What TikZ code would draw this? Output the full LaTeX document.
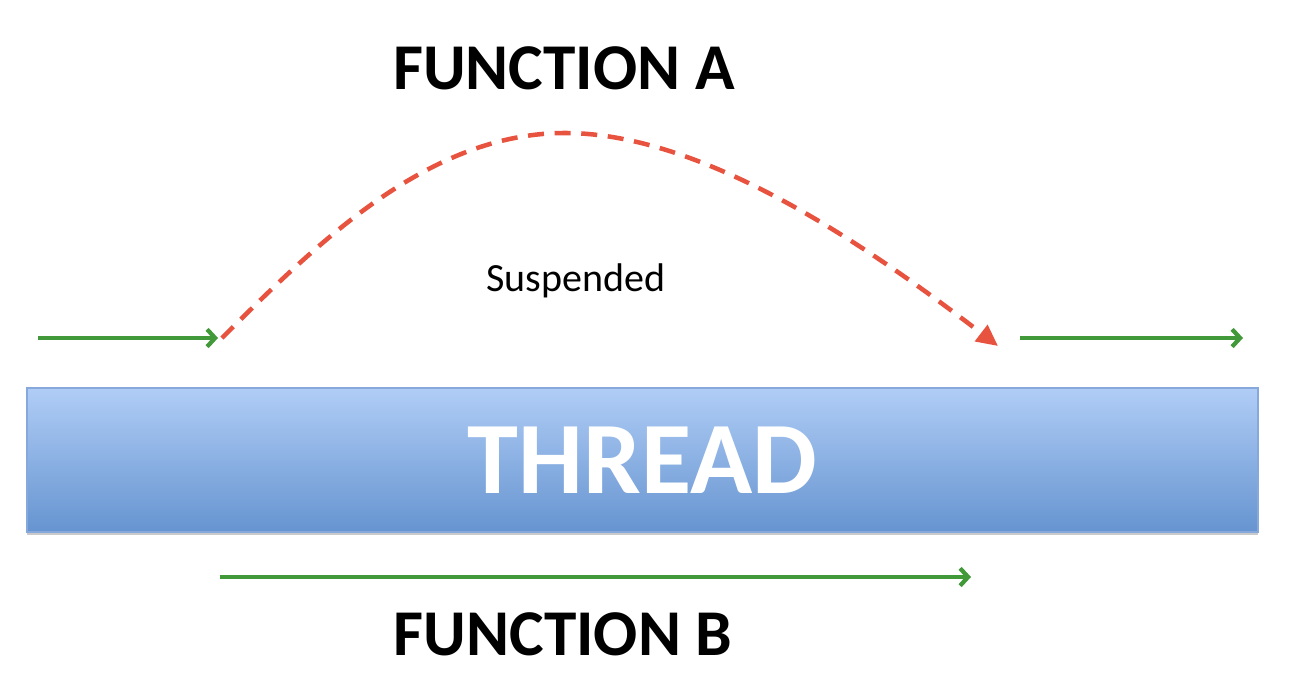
\documentclass[tikz,border=0pt]{standalone}
\usepackage{fontspec}
\setmainfont{Carlito}
\usetikzlibrary{arrows.meta,shadows}
\definecolor{arrgreen}{HTML}{42993A}
\definecolor{arrred}{HTML}{E8533F}
\definecolor{bartop}{HTML}{B0CDF6}
\definecolor{barbot}{HTML}{6694D0}
\definecolor{barline}{HTML}{86A8DA}
\tikzset{
  greenarrow/.style={draw=arrgreen,line width=3.2pt,-{Straight Barb[length=6pt,width=13pt,line width=3.2pt]}},
  redarrow/.style={draw=arrred,line width=3.4pt,dash pattern=on 12pt off 8pt,-{Triangle[length=16pt,width=15pt]}},
  title/.style={font=\bfseries\fontsize{49}{58}\selectfont,text=black,inner sep=0pt},
  barstyle/.style={draw=barline,line width=1.2pt,top color=bartop,bottom color=barbot,
    minimum width=923pt,minimum height=108pt,inner sep=0pt,
    drop shadow={shadow xshift=0pt,shadow yshift=-2.5pt,opacity=0.35,fill=black!60},
    font=\bfseries\fontsize{77}{90}\selectfont,text=white},
  smalltext/.style={font=\fontsize{30}{36}\selectfont,inner sep=0pt}
}
\begin{document}
\begin{tikzpicture}[x=0.75pt,y=-0.75pt]
\useasboundingbox (0,0) rectangle (1306,678);
\node[title] (fa) at (564,68) {FUNCTION A};
\node[title] (fb) at (563,634) {FUNCTION B};
\node[smalltext] (susp) at (576,281) {Suspended};
\node[barstyle] (thread) at (642.5,460) {THREAD};
\coordinate (l1) at (38,338);
\coordinate (l2) at (218,338);
\coordinate (r0) at (222,338);
\coordinate (peak) at (565,133);
\coordinate (r1) at (998,346);
\coordinate (g1) at (1020,338);
\coordinate (g2) at (1243,338);
\coordinate (b1) at (220,577);
\coordinate (b2) at (971,577);
\draw[greenarrow] (l1) -- (l2);
\draw[greenarrow] (g1) -- (g2);
\draw[greenarrow] (b1) -- (b2);
\draw[redarrow] (r0) .. controls (320,240) and (430,133) .. (peak)
  .. controls (700,133) and (860,240) .. (r1);
\end{tikzpicture}
\end{document}
